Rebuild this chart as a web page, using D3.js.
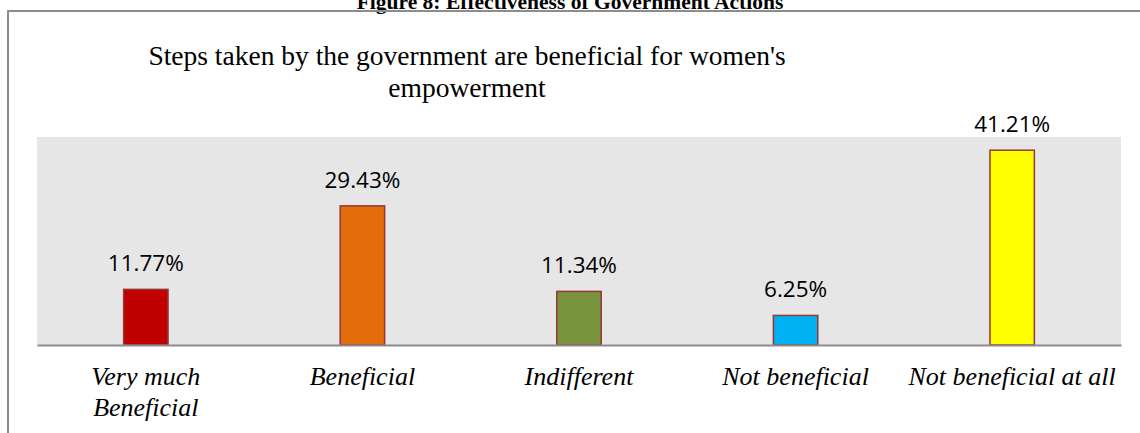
<!DOCTYPE html>
<html lang="en">
<head>
  <meta charset="UTF-8" />
  <title>Steps taken by the government</title>
  <script src="https://d3js.org/d3.v7.min.js"></script>
  <style>
    body {
      margin: 0;
      padding: 0;
      background: #fff;
    }
    .caption {
      font-family: "Liberation Serif", "Times New Roman", serif;
      font-weight: bold;
      font-size: 21.5px;
    }
    .title {
      font-family: "Liberation Serif", "Times New Roman", serif;
      font-size: 27.5px;
    }
    .value-label {
      font-family: "Open Sans", sans-serif;
      font-size: 22.5px;
    }
    .cat-label {
      font-family: "Liberation Serif", "Times New Roman", serif;
      font-style: italic;
      font-size: 26px;
    }
  </style>
</head>
<body>
  <div id="chart"></div>

  <script>
    const categories = [
      ["Very much", "Beneficial"],
      ["Beneficial"],
      ["Indifferent"],
      ["Not beneficial"],
      ["Not beneficial at all"]
    ];
    const values = [11.77, 29.43, 11.34, 6.25, 41.21];
    const colors = ["#c00000", "#e46c0a", "#77933c", "#00b0f0", "#ffff00"];
    const titleLines = [
      "Steps taken by the government are beneficial for women's",
      "empowerment"
    ];
    const caption = "Figure 8: Effectiveness of Government Actions";

    const W = 1140, H = 433;
    const margin = { top: 137, right: 19, bottom: 88, left: 37 };
    const width = W - margin.left - margin.right;
    const height = H - margin.top - margin.bottom;

    const svg = d3
      .select("#chart")
      .append("svg")
      .attr("width", W)
      .attr("height", H);

    // caption (cut at the top of the page) and frame
    svg
      .append("text")
      .attr("class", "caption")
      .attr("x", 570)
      .attr("y", 9)
      .attr("text-anchor", "middle")
      .text(caption);

    svg
      .append("path")
      .attr("d", `M8,${H} V11 H${W}`)
      .attr("fill", "none")
      .attr("stroke", "#8c8c8c")
      .attr("stroke-width", 2);

    svg
      .append("text")
      .attr("class", "title")
      .attr("text-anchor", "middle")
      .selectAll("tspan")
      .data(titleLines)
      .enter()
      .append("tspan")
      .attr("x", 467)
      .attr("y", (d, i) => 65 + i * 32)
      .text((d) => d);

    const g = svg
      .append("g")
      .attr("transform", `translate(${margin.left},${margin.top})`);

    const x = d3
      .scaleBand()
      .domain(d3.range(values.length))
      .range([0, width])
      .paddingInner(0.795)
      .paddingOuter(0.4);

    const y = d3.scaleLinear().domain([0, 44]).range([height, 0]);

    g.append("rect")
      .attr("width", width)
      .attr("height", height)
      .attr("fill", "#e6e6e6");

    g.selectAll(".bar")
      .data(values)
      .enter()
      .append("rect")
      .attr("class", "bar")
      .attr("x", (d, i) => x(i))
      .attr("y", (d) => y(d))
      .attr("width", x.bandwidth())
      .attr("height", (d) => height - y(d))
      .attr("fill", (d, i) => colors[i])
      .attr("stroke", "#953735")
      .attr("stroke-width", 1.5);

    g.selectAll(".value-label")
      .data(values)
      .enter()
      .append("text")
      .attr("class", "value-label")
      .attr("x", (d, i) => x(i) + x.bandwidth() / 2)
      .attr("y", (d) => y(d) - 18)
      .attr("text-anchor", "middle")
      .text((d) => d.toFixed(2) + "%");

    // x axis: plain line, no ticks
    const axis = g
      .append("g")
      .attr("transform", `translate(0,${height})`)
      .call(d3.axisBottom(x).tickSize(0).tickFormat(""));
    axis.select(".domain").attr("stroke", "#8c8c8c").attr("stroke-width", 2);

    const labels = g
      .selectAll(".cat-label")
      .data(categories)
      .enter()
      .append("text")
      .attr("class", "cat-label")
      .attr("text-anchor", "middle");

    labels
      .selectAll("tspan")
      .data((d, i) => d.map((line) => ({ line, i })))
      .enter()
      .append("tspan")
      .attr("x", (d) => x(d.i) + x.bandwidth() / 2)
      .attr("y", (d, j) => height + 40 + j * 31)
      .text((d) => d.line);
  </script>
</body>
</html>
